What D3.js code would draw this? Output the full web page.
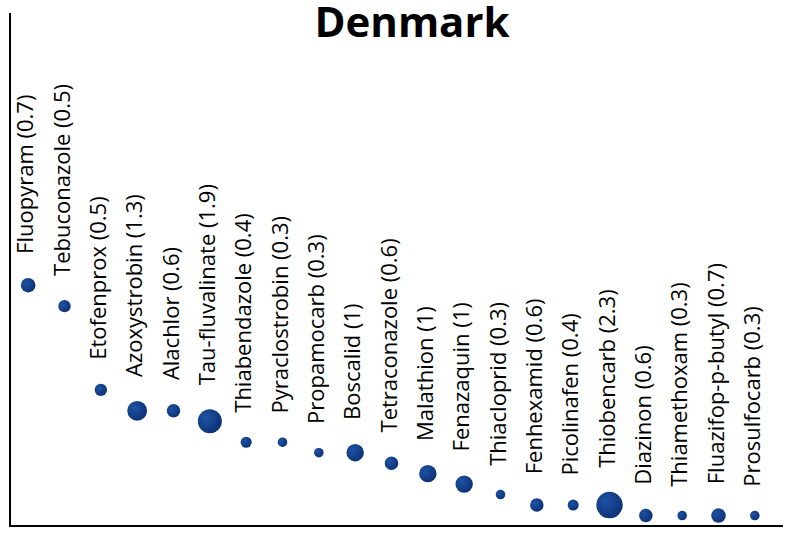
<!DOCTYPE html>
<html>
<head>
<meta charset="utf-8">
<script src="https://cdn.jsdelivr.net/npm/d3@7"></script>
<style>
  html, body { margin: 0; padding: 0; background: #fff; }
  svg { display: block; }
</style>
</head>
<body>
<svg id="chart" width="786" height="534"></svg>
<script>
const title = "Denmark";
const names = ["Fluopyram","Tebuconazole","Etofenprox","Azoxystrobin","Alachlor","Tau-fluvalinate","Thiabendazole","Pyraclostrobin","Propamocarb","Boscalid","Tetraconazole","Malathion","Fenazaquin","Thiacloprid","Fenhexamid","Picolinafen","Thiobencarb","Diazinon","Thiamethoxam","Fluazifop-p-butyl","Prosulfocarb"];
const sizes = [0.7,0.5,0.5,1.3,0.6,1.9,0.4,0.3,0.3,1,0.6,1,1,0.3,0.6,0.4,2.3,0.6,0.3,0.7,0.3];
const counts = [23,21,13,11,11,10,8,8,7,7,6,5,4,3,2,2,2,1,1,1,1];

const data = names.map((n, i) => ({ name: n, size: sizes[i], count: counts[i] }));

const svg = d3.select("#chart");
const font = "'Open Sans', 'Noto Sans', sans-serif";

const x = d3.scaleBand().domain(names).range([10, 773]).padding(0);
const y = d3.scaleLinear().domain([0, 49]).range([526, 13]);
const r = d3.scaleSqrt().domain([0, 2.3]).range([0, 13.2]);

const defs = svg.append("defs");
const grad = defs.append("radialGradient").attr("id", "ball")
  .attr("cx", "35%").attr("cy", "35%").attr("r", "75%");
grad.append("stop").attr("offset", "0%").attr("stop-color", "#1f52a3");
grad.append("stop").attr("offset", "100%").attr("stop-color", "#0a2f72");

// axes lines
svg.append("line").attr("x1", 10).attr("x2", 10).attr("y1", 13).attr("y2", 527)
  .attr("stroke", "#000").attr("stroke-width", 2);
svg.append("line").attr("x1", 9).attr("x2", 783).attr("y1", 526).attr("y2", 526)
  .attr("stroke", "#000").attr("stroke-width", 2);

const cx = d => x(d.name) + x.bandwidth() / 2;

svg.append("g").selectAll("circle").data(data).join("circle")
  .attr("cx", cx)
  .attr("cy", d => y(d.count))
  .attr("r", d => r(d.size))
  .attr("fill", "url(#ball)");

svg.append("g").selectAll("text").data(data).join("text")
  .attr("transform", d => `translate(${cx(d) + 5},${y(d.count) - r(d.size) - 24}) rotate(-90)`)
  .attr("text-anchor", "start")
  .attr("font-family", font)
  .attr("font-size", 22)
  .attr("fill", "#000")
  .text(d => `${d.name} (${d.size})`);

svg.append("text")
  .attr("x", 412).attr("y", 37)
  .attr("text-anchor", "middle")
  .attr("font-family", font)
  .attr("font-weight", "bold")
  .attr("font-size", 42)
  .attr("fill", "#000")
  .text(title);
</script>
</body>
</html>
